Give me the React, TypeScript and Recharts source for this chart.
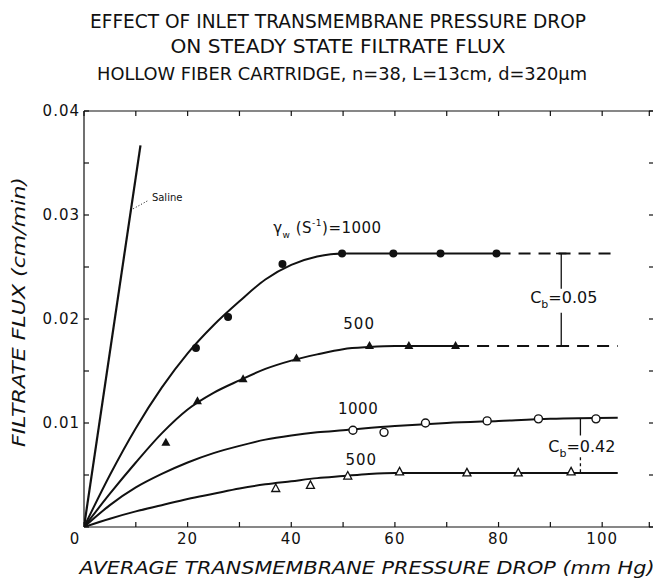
import React from 'react';
import {
  ComposedChart,
  Line,
  Scatter,
  XAxis,
  YAxis,
  ReferenceLine,
  ReferenceDot,
} from 'recharts';

// Fitted curves, x = average transmembrane pressure drop (mm Hg), y = filtrate flux (cm/min)
const SALINE_X = [0, 10.9];
const SALINE_Y = [0, 0.0367];

const FIT_1000_CB005_X = [0, 5, 10, 15, 20, 25, 30, 35, 40, 45, 50, 60, 70, 80];
const FIT_1000_CB005_Y = [0, 0.005, 0.0095, 0.0134, 0.0167, 0.0194, 0.0217, 0.0238, 0.0252, 0.026, 0.0263, 0.0263, 0.0263, 0.0263];
const EXT_1000_CB005_X = [80, 103];
const EXT_1000_CB005_Y = [0.0263, 0.0263];

const FIT_500_CB005_X = [0, 5, 10, 15, 20, 25, 30, 35, 40, 45, 50, 55, 60, 72];
const FIT_500_CB005_Y = [0, 0.0032, 0.0062, 0.009, 0.0113, 0.0129, 0.0141, 0.0152, 0.016, 0.0166, 0.0171, 0.0173, 0.0174, 0.0174];
const EXT_500_CB005_X = [72, 103];
const EXT_500_CB005_Y = [0.0174, 0.0174];

const FIT_1000_CB042_X = [0, 5, 10, 15, 20, 25, 30, 35, 40, 45, 50, 60, 70, 80, 90, 103];
const FIT_1000_CB042_Y = [0, 0.0021, 0.0038, 0.0051, 0.0062, 0.0071, 0.0078, 0.0084, 0.0088, 0.0091, 0.0093, 0.0097, 0.01, 0.0102, 0.0104, 0.0105];

const FIT_500_CB042_X = [0, 5, 10, 15, 20, 25, 30, 35, 40, 45, 50, 55, 60, 70, 103];
const FIT_500_CB042_Y = [0, 0.0008, 0.0015, 0.0021, 0.0027, 0.0032, 0.0037, 0.0041, 0.0044, 0.0047, 0.0049, 0.0051, 0.0052, 0.0052, 0.0052];

// Measured points
const PTS_1000_CB005_X = [21.6, 27.8, 38.3, 49.8, 59.7, 68.8, 79.6];
const PTS_1000_CB005_Y = [0.0172, 0.0202, 0.0253, 0.0263, 0.0263, 0.0263, 0.0263];

const PTS_500_CB005_X = [15.8, 21.9, 30.7, 41.0, 55.1, 62.7, 71.7];
const PTS_500_CB005_Y = [0.0081, 0.0121, 0.0142, 0.0162, 0.0174, 0.0174, 0.0174];

const PTS_1000_CB042_X = [51.9, 57.9, 65.9, 77.8, 87.7, 98.8];
const PTS_1000_CB042_Y = [0.0093, 0.0091, 0.01, 0.0102, 0.0104, 0.0104];

const PTS_500_CB042_X = [37.0, 43.7, 50.9, 60.9, 73.9, 83.8, 94.0];
const PTS_500_CB042_Y = [0.0037, 0.004, 0.0049, 0.0053, 0.0052, 0.0052, 0.0053];

const X_TICKS = [0, 10, 20, 30, 40, 50, 60, 70, 80, 90, 100, 110];
const Y_TICKS = [0, 0.005, 0.01, 0.015, 0.02, 0.025, 0.03, 0.035, 0.04];

const INK = '#111';
const FONT = '"DejaVu Sans", sans-serif';

const zip = (xs: number[], ys: number[]) => xs.map((x, i) => ({ x, y: ys[i] }));

const BottomTick = ({ x, y, payload }: any) => {
  const v = payload.value;
  const show = v % 20 === 0 && v <= 100;
  return (
    <g>
      <line x1={x} y1={y} x2={x} y2={y - 5} stroke={INK} strokeWidth={1.2} />
      {show && (
        <text x={v === 0 ? x - 9 : x} y={y + 17} textAnchor="middle" fontFamily={FONT} fontSize={15} letterSpacing={1} fill={INK}>
          {v}
        </text>
      )}
    </g>
  );
};

const LeftTick = ({ x, y, payload }: any) => {
  const v = payload.value;
  const k = Math.round(v * 1000);
  const show = k > 0 && k % 10 === 0;
  return (
    <g>
      <line x1={x} y1={y} x2={x + 5} y2={y} stroke={INK} strokeWidth={1.2} />
      {show && (
        <text x={x - 4} y={y + 5} textAnchor="end" fontFamily={FONT} fontSize={15} letterSpacing={1} fill={INK}>
          {v.toFixed(2)}
        </text>
      )}
    </g>
  );
};

const TopTick = ({ x, y }: any) => <line x1={x} y1={y} x2={x} y2={y + 5} stroke={INK} strokeWidth={1.2} />;
const RightTick = ({ x, y }: any) => <line x1={x} y1={y} x2={x - 5} y2={y} stroke={INK} strokeWidth={1.2} />;

const FilledCircle = ({ cx, cy }: any) => <circle cx={cx} cy={cy} r={4} fill={INK} />;
const OpenCircle = ({ cx, cy }: any) => <circle cx={cx} cy={cy} r={4} fill="#fff" stroke={INK} strokeWidth={1.4} />;
const FilledTriangle = ({ cx, cy }: any) => (
  <polygon points={`${cx},${cy - 5} ${cx + 4.5},${cy + 3} ${cx - 4.5},${cy + 3}`} fill={INK} />
);
const OpenTriangle = ({ cx, cy }: any) => (
  <polygon points={`${cx},${cy - 4.5} ${cx + 4},${cy + 3} ${cx - 4},${cy + 3}`} fill="#fff" stroke={INK} strokeWidth={1.3} />
);

// text placed at a data position (baseline)
const textAt = (content: React.ReactNode, anchor: string, size: number, spacing = 0) =>
  ({ cx, cy }: any) => (
    <text x={cx} y={cy} textAnchor={anchor} fontFamily={FONT} fontSize={size} letterSpacing={spacing} fill={INK}>
      {content}
    </text>
  );

const gammaLabel = (
  <>
    <tspan fill={INK}>γ</tspan>
    <tspan fill={INK} fontSize={9} dy={5}>w</tspan>
    <tspan fill={INK} dy={-5}> (S</tspan>
    <tspan fill={INK} fontSize={9} dy={-7}>-1</tspan>
    <tspan fill={INK} dy={7}>)=1000</tspan>
  </>
);

const cbLabel = (value: string) => (
  <>
    <tspan fill={INK}>C</tspan>
    <tspan fill={INK} fontSize={11} dy={5}>b</tspan>
    <tspan fill={INK} dy={-5}>={value}</tspan>
  </>
);

const App: React.FC = () => {
  const lineProps = {
    dataKey: 'y',
    stroke: INK,
    strokeWidth: 2,
    dot: false,
    activeDot: false,
    isAnimationActive: false,
  } as const;

  return (
    <div style={{ position: 'relative', width: 653, height: 571, background: '#fff' }}>
      <ComposedChart width={653} height={571} margin={{ top: 93, right: 0, bottom: 22, left: 0 }}>
        <XAxis
          dataKey="x"
          type="number"
          domain={[0, 110]}
          ticks={X_TICKS}
          allowDataOverflow
          height={30}
          tickSize={0}
          tickMargin={0}
          tick={<BottomTick />}
          axisLine={{ stroke: INK, strokeWidth: 1.2 }}
        />
        <XAxis
          xAxisId="top"
          orientation="top"
          dataKey="x"
          type="number"
          domain={[0, 110]}
          ticks={X_TICKS}
          allowDataOverflow
          height={10}
          tickSize={0}
          tickMargin={0}
          tick={<TopTick />}
          axisLine={{ stroke: INK, strokeWidth: 1.2 }}
        />
        <YAxis
          dataKey="y"
          type="number"
          domain={[0, 0.04]}
          ticks={Y_TICKS}
          allowDataOverflow
          width={76}
          tickSize={0}
          tickMargin={0}
          tick={<LeftTick />}
          axisLine={{ stroke: INK, strokeWidth: 1.2 }}
        />
        <YAxis
          yAxisId="right"
          orientation="right"
          dataKey="y"
          type="number"
          domain={[0, 0.04]}
          ticks={Y_TICKS}
          allowDataOverflow
          width={7}
          tickSize={0}
          tickMargin={0}
          tick={<RightTick />}
          axisLine={{ stroke: INK, strokeWidth: 1.2 }}
        />

        <Line {...lineProps} data={zip(SALINE_X, SALINE_Y)} type="linear" strokeWidth={2.2} />
        <Line {...lineProps} data={zip(FIT_1000_CB005_X, FIT_1000_CB005_Y)} type="monotone" />
        <Line {...lineProps} data={zip(EXT_1000_CB005_X, EXT_1000_CB005_Y)} type="linear" strokeDasharray="12 8" />
        <Line {...lineProps} data={zip(FIT_500_CB005_X, FIT_500_CB005_Y)} type="monotone" />
        <Line {...lineProps} data={zip(EXT_500_CB005_X, EXT_500_CB005_Y)} type="linear" strokeDasharray="12 8" />
        <Line {...lineProps} data={zip(FIT_1000_CB042_X, FIT_1000_CB042_Y)} type="monotone" />
        <Line {...lineProps} data={zip(FIT_500_CB042_X, FIT_500_CB042_Y)} type="monotone" />

        <Scatter data={zip(PTS_1000_CB005_X, PTS_1000_CB005_Y)} dataKey="y" shape={FilledCircle} isAnimationActive={false} />
        <Scatter data={zip(PTS_500_CB005_X, PTS_500_CB005_Y)} dataKey="y" shape={FilledTriangle} isAnimationActive={false} />
        <Scatter data={zip(PTS_1000_CB042_X, PTS_1000_CB042_Y)} dataKey="y" shape={OpenCircle} isAnimationActive={false} />
        <Scatter data={zip(PTS_500_CB042_X, PTS_500_CB042_Y)} dataKey="y" shape={OpenTriangle} isAnimationActive={false} />

        {/* Cb = 0.05 bracket */}
        <ReferenceLine segment={[{ x: 92.1, y: 0.0263 }, { x: 92.1, y: 0.0229 }]} stroke={INK} strokeWidth={1.3} />
        <ReferenceLine segment={[{ x: 92.1, y: 0.0206 }, { x: 92.1, y: 0.0174 }]} stroke={INK} strokeWidth={1.3} />
        <ReferenceLine segment={[{ x: 91.1, y: 0.0263 }, { x: 93.1, y: 0.0263 }]} stroke={INK} strokeWidth={1.6} />
        <ReferenceLine segment={[{ x: 91.1, y: 0.0174 }, { x: 93.1, y: 0.0174 }]} stroke={INK} strokeWidth={1.6} />

        {/* Cb = 0.42 bracket */}
        <ReferenceLine segment={[{ x: 95.8, y: 0.0104 }, { x: 95.8, y: 0.0088 }]} stroke={INK} strokeWidth={1.3} />
        <ReferenceLine segment={[{ x: 95.8, y: 0.0067 }, { x: 95.8, y: 0.0053 }]} stroke={INK} strokeWidth={1.3} strokeDasharray="3 3" />

        {/* saline leader */}
        <ReferenceLine segment={[{ x: 9.5, y: 0.0306 }, { x: 12.4, y: 0.0314 }]} stroke={INK} strokeWidth={1} strokeDasharray="1 2" />

        <ReferenceDot x={13.1} y={0.03135} r={0} shape={textAt('Saline', 'start', 10)} />
        <ReferenceDot x={36.5} y={0.0283} r={0} shape={textAt(gammaLabel, 'start', 15, 0.5)} />
        <ReferenceDot x={53.1} y={0.019} r={0} shape={textAt('500', 'middle', 15, 1)} />
        <ReferenceDot x={52.9} y={0.01087} r={0} shape={textAt('1000', 'middle', 15, 0.5)} />
        <ReferenceDot x={53.5} y={0.00596} r={0} shape={textAt('500', 'middle', 15, 1)} />
        <ReferenceDot x={86.1} y={0.02154} r={0} shape={textAt(cbLabel('0.05'), 'start', 16)} />
        <ReferenceDot x={89.6} y={0.00721} r={0} shape={textAt(cbLabel('0.42'), 'start', 16)} />
      </ComposedChart>

      <svg width={653} height={571} style={{ position: 'absolute', left: 0, top: 0, pointerEvents: 'none' }}>
        <g fontFamily={FONT} fill={INK}>
          <text x={330} y={20} textAnchor="middle" fontSize={19} textLength={496} lengthAdjust="spacingAndGlyphs">
            EFFECT OF INLET TRANSMEMBRANE PRESSURE DROP
          </text>
          <text x={330} y={45} textAnchor="middle" fontSize={19} textLength={335} lengthAdjust="spacingAndGlyphs">
            ON STEADY STATE FILTRATE FLUX
          </text>
          <text x={334} y={72} textAnchor="middle" fontSize={18} textLength={490} lengthAdjust="spacingAndGlyphs">
            HOLLOW FIBER CARTRIDGE, n=38, L=13cm, d=320μm
          </text>
          <text x={359} y={566} textAnchor="middle" fontSize={18} fontStyle="italic" textLength={575} lengthAdjust="spacingAndGlyphs">
            AVERAGE TRANSMEMBRANE PRESSURE DROP (mm Hg)
          </text>
          <text transform="translate(17,304) rotate(-90)" textAnchor="middle" fontSize={18} fontStyle="italic" textLength={270} lengthAdjust="spacingAndGlyphs">
            FILTRATE FLUX (cm/min)
          </text>
        </g>
      </svg>
    </div>
  );
};

export default App;
